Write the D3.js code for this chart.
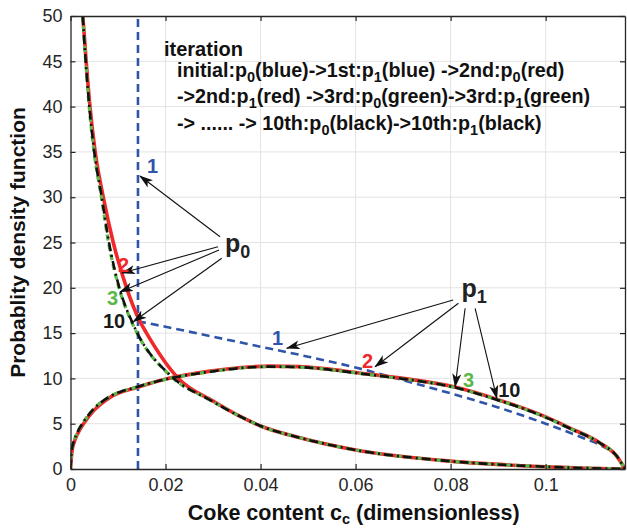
<!DOCTYPE html>
<html>
<head>
<meta charset="utf-8">
<script src="https://cdn.jsdelivr.net/npm/d3@7"></script>
<style>
  body { margin: 0; background: #fff; }
  svg { display: block; }
  text { font-family: "Liberation Sans", Arial, Helvetica, sans-serif; }
</style>
</head>
<body>
<svg id="chart" width="627" height="528"></svg>
<script>
// ---- axes ----
const xTicks = [0, 0.02, 0.04, 0.06, 0.08, 0.1];
const xTickLabels = ["0", "0.02", "0.04", "0.06", "0.08", "0.1"];
const yTicks = [0, 5, 10, 15, 20, 25, 30, 35, 40, 45, 50];
const yTickLabels = ["0", "5", "10", "15", "20", "25", "30", "35", "40", "45", "50"];
const xMax = 0.1167;

// ---- iteration 1 (blue): initial p0 is a spike at c0, p1 follows ----
const blueP0X = [0.0142, 0.0142];
const blueP0Y = [0, 50];
const blueP1X = [0.0142, 0.02, 0.03, 0.04, 0.05, 0.06, 0.07, 0.08, 0.09, 0.1, 0.108, 0.112, 0.115, 0.1167];
const blueP1Y = [16.3, 15.7, 14.6, 13.5, 12.4, 11.2, 9.8, 8.35, 6.8, 5.0, 3.4, 2.5, 1.4, 0];

// ---- iteration 2 (red) ----
const redP0X = [0.0026, 0.0033, 0.0041, 0.0052, 0.0069, 0.0090, 0.0118, 0.0146, 0.0160, 0.0227, 0.0300, 0.0357, 0.0400, 0.0483, 0.0600, 0.0780, 0.1000, 0.1167];
const redP0Y = [50, 45, 40, 35, 30, 25, 20, 16.3, 15, 10.0, 7.5, 5.8, 4.75, 3.45, 2.1, 0.95, 0.25, 0];
const redP1X = [0, 0.0003, 0.0008, 0.0015, 0.003, 0.005, 0.0083, 0.0143, 0.0203, 0.0294, 0.036, 0.042, 0.048, 0.054, 0.06, 0.07, 0.08, 0.09, 0.1, 0.105, 0.1115, 0.115, 0.1167];
const redP1Y = [0, 1.9, 3.0, 3.9, 5.2, 6.5, 7.9, 9.05, 9.95, 10.8, 11.2, 11.35, 11.3, 11.05, 10.65, 10.0, 9.15, 7.65, 5.75, 4.55, 2.85, 1.4, 0];

// ---- iteration 3 (green) ----
const greenP0X = [0.00255, 0.0032, 0.00393, 0.00495, 0.0065, 0.0080, 0.0102, 0.0128, 0.0140, 0.0212, 0.0294, 0.0357, 0.0400, 0.0483, 0.0600, 0.0780, 0.1000, 0.1167];
const greenP0Y = [50, 45, 40, 35, 30, 25, 20, 16.3, 15, 10.2, 7.6, 5.8, 4.75, 3.45, 2.1, 0.95, 0.25, 0];
const greenP1X = [0, 0.0003, 0.0008, 0.0015, 0.003, 0.005, 0.0083, 0.0143, 0.0203, 0.0294, 0.036, 0.042, 0.048, 0.054, 0.06, 0.07, 0.08, 0.09, 0.1, 0.105, 0.1115, 0.115, 0.1167];
const greenP1Y = [0, 2.2, 3.2, 4.1, 5.4, 6.7, 8.0, 9.1, 9.93, 10.74, 11.15, 11.3, 11.25, 11.0, 10.6, 9.95, 9.1, 7.6, 5.7, 4.5, 2.84, 1.4, 0];

// ---- iteration 10 (black, converged) ----
const blackP0X = [0.00257, 0.0032, 0.00396, 0.0050, 0.00657, 0.0081, 0.01028, 0.0129, 0.01407, 0.0213, 0.0294, 0.0357, 0.0400, 0.0483, 0.0600, 0.0780, 0.1000, 0.1167];
const blackP0Y = [50, 45, 40, 35, 30, 25, 20, 16.3, 15, 10.2, 7.6, 5.8, 4.75, 3.45, 2.1, 0.95, 0.25, 0];
const blackP1X = [0, 0.0003, 0.0008, 0.0015, 0.003, 0.005, 0.0083, 0.0143, 0.0203, 0.0294, 0.036, 0.042, 0.048, 0.054, 0.06, 0.07, 0.08, 0.09, 0.1, 0.105, 0.1115, 0.115, 0.1167];
const blackP1Y = [0, 2.2, 3.2, 4.1, 5.4, 6.7, 8.0, 9.1, 9.93, 10.74, 11.15, 11.3, 11.25, 11.0, 10.6, 9.95, 9.1, 7.6, 5.7, 4.5, 2.84, 1.4, 0];

// ---- text ----
const headerTitle = "iteration";
const headerLines = [
  "initial:p_0(blue)->1st:p_1(blue) ->2nd:p_0(red)",
  "->2nd:p_1(red) ->3rd:p_0(green)->3rd:p_1(green)",
  "-> ...... -> 10th:p_0(black)->10th:p_1(black)"
];
const xLabelParts = ["Coke content c", "c", " (dimensionless)"];
const yLabel = "Probablity density function";

// ---- annotations (data units) ----
const p0Label = { x: 0.0325, y: 23.95, sub: "0" };
const p1Label = { x: 0.0823, y: 18.98, sub: "1" };
const p0Arrows = [
  { x1: 0.03147, y1: 25.64, x2: 0.01463, y2: 32.34 },
  { x1: 0.03105, y1: 24.54, x2: 0.01084, y2: 21.63 },
  { x1: 0.03126, y1: 24.17, x2: 0.01042, y2: 19.54 },
  { x1: 0.03183, y1: 23.26, x2: 0.01322, y2: 16.26 }
];
const p1Arrows = [
  { x1: 0.08053, y1: 18.65, x2: 0.04552, y2: 13.32 },
  { x1: 0.08164, y1: 18.29, x2: 0.06411, y2: 11.29 },
  { x1: 0.08305, y1: 17.74, x2: 0.08095, y2: 9.08 },
  { x1: 0.08516, y1: 17.74, x2: 0.08973, y2: 7.80 }
];
const iterLabels = [
  { text: "1", x: 0.0161, y: 32.67, color: "#2f54a8" },
  { text: "2", x: 0.0100, y: 21.74, color: "#f0282a" },
  { text: "3", x: 0.00768, y: 18.1, color: "#5cb84a" },
  { text: "10", x: 0.00684, y: 15.56, color: "#1a1a1a" },
  { text: "1", x: 0.04242, y: 13.69, color: "#2f54a8" },
  { text: "2", x: 0.06137, y: 11.15, color: "#f0282a" },
  { text: "3", x: 0.08263, y: 9.05, color: "#5cb84a" },
  { text: "10", x: 0.0900, y: 7.95, color: "#1a1a1a" }
];

// ================= drawing =================
const svg = d3.select("#chart");
const W = 627, H = 528;
const margin = { left: 70.5, right: 2, top: 16, bottom: 59 };

const x = d3.scaleLinear().domain([0, xMax]).range([margin.left, W - margin.right]);
const y = d3.scaleLinear().domain([0, 50]).range([H - margin.bottom, margin.top]);

const axisColor = "#262626";
const gridColor = "#e3e3e3";

// grid
const grid = svg.append("g");
grid.selectAll("line.gx").data(xTicks.slice(1)).join("line")
  .attr("x1", d => x(d)).attr("x2", d => x(d))
  .attr("y1", y(0)).attr("y2", y(50))
  .attr("stroke", gridColor).attr("stroke-width", 1);
grid.selectAll("line.gy").data(yTicks.slice(1, -1)).join("line")
  .attr("x1", x(0)).attr("x2", x(xMax))
  .attr("y1", d => y(d)).attr("y2", d => y(d))
  .attr("stroke", gridColor).attr("stroke-width", 1);

// clip
svg.append("defs").append("clipPath").attr("id", "plotclip")
  .append("rect").attr("x", x(0)).attr("y", y(50)).attr("width", x(xMax) - x(0)).attr("height", y(0) - y(50));

const line = d3.line().x(d => x(d[0])).y(d => y(d[1])).curve(d3.curveMonotoneX);
const zip = (a, b) => a.map((v, i) => [v, b[i]]);

const plot = svg.append("g").attr("clip-path", "url(#plotclip)");

const blue = "#2f54a8", red = "#f0282a", green = "#5cb84a", black = "#111111";

// iteration 1 (blue dashed)
plot.append("path").datum(zip(blueP0X, blueP0Y))
  .attr("d", d3.line().x(d => x(d[0])).y(d => y(d[1])))
  .attr("fill", "none").attr("stroke", blue).attr("stroke-width", 2.6).attr("stroke-dasharray", "8,5");
plot.append("path").datum(zip(blueP1X, blueP1Y))
  .attr("d", line)
  .attr("fill", "none").attr("stroke", blue).attr("stroke-width", 2.6).attr("stroke-dasharray", "8,5");

// iteration 2 (red solid)
[zip(redP0X, redP0Y), zip(redP1X, redP1Y)].forEach(pts => {
  plot.append("path").datum(pts).attr("d", line)
    .attr("fill", "none").attr("stroke", red).attr("stroke-width", 3.6);
});
// iteration 3 (green dashed)
[zip(greenP0X, greenP0Y), zip(greenP1X, greenP1Y)].forEach(pts => {
  plot.append("path").datum(pts).attr("d", line)
    .attr("fill", "none").attr("stroke", green).attr("stroke-width", 3.2).attr("stroke-dasharray", "6,4");
});
// iteration 10 (black dash-dot)
[zip(blackP0X, blackP0Y), zip(blackP1X, blackP1Y)].forEach(pts => {
  plot.append("path").datum(pts).attr("d", line)
    .attr("fill", "none").attr("stroke", black).attr("stroke-width", 2.6).attr("stroke-dasharray", "9,4,2,4");
});

// axes (box with inward ticks on all sides)
const tickLen = 5;
const fmtX = (d, i) => xTickLabels[i];
const fmtY = (d, i) => yTickLabels[i];
const gx = svg.append("g").attr("transform", `translate(0,${y(0)})`)
  .call(d3.axisBottom(x).tickValues(xTicks).tickFormat(fmtX).tickSizeInner(-tickLen).tickSizeOuter(0).tickPadding(9));
const gxTop = svg.append("g").attr("transform", `translate(0,${y(50)})`)
  .call(d3.axisTop(x).tickValues(xTicks).tickFormat("").tickSizeInner(-tickLen).tickSizeOuter(0));
const gy = svg.append("g").attr("transform", `translate(${x(0)},0)`)
  .call(d3.axisLeft(y).tickValues(yTicks).tickFormat(fmtY).tickSizeInner(-tickLen).tickSizeOuter(0).tickPadding(8));
const gyRight = svg.append("g").attr("transform", `translate(${x(xMax)},0)`)
  .call(d3.axisRight(y).tickValues(yTicks).tickFormat("").tickSizeInner(-tickLen).tickSizeOuter(0));
[gx, gxTop, gy, gyRight].forEach(g => {
  g.select(".domain").attr("stroke", axisColor).attr("stroke-width", 1.3);
  g.selectAll(".tick line").attr("stroke", axisColor).attr("stroke-width", 1.2);
  g.selectAll(".tick text").attr("fill", axisColor).style("font-size", "18px")
    .style("font-family", '"Liberation Sans", Arial, Helvetica, sans-serif');
});

// axis labels
const xl = svg.append("text")
  .attr("x", (x(0) + x(xMax)) / 2 + 6).attr("y", 520)
  .attr("text-anchor", "middle").attr("font-weight", "bold").attr("font-size", 21.5).attr("fill", "#111");
xl.append("tspan").text(xLabelParts[0]);
xl.append("tspan").text(xLabelParts[1]).attr("font-size", 14.5).attr("dy", 4);
xl.append("tspan").text(xLabelParts[2]).attr("dy", -4);

svg.append("text")
  .attr("transform", `translate(25,${(y(0) + y(50)) / 2}) rotate(-90)`)
  .attr("text-anchor", "middle").attr("font-weight", "bold").attr("font-size", 21).attr("fill", "#111")
  .text(yLabel);

// header block
svg.append("text").attr("x", 164).attr("y", 55.5)
  .attr("font-weight", "bold").attr("font-size", 20).attr("fill", "#111").text(headerTitle);
headerLines.forEach((ln, i) => {
  const t = svg.append("text").attr("x", 177).attr("y", 77 + i * 26.3)
    .attr("font-weight", "bold").attr("font-size", 19.7).attr("fill", "#111");
  const parts = ln.split(/_(\d)/);
  parts.forEach((p, k) => {
    if (k % 2 === 1) t.append("tspan").text(p).attr("font-size", 14.5).attr("dy", 5);
    else if (p.length) t.append("tspan").text(p).attr("dy", k > 0 ? -5 : 0);
  });
});

// arrows
const defs = svg.select("defs");
defs.append("marker").attr("id", "ah")
  .attr("viewBox", "0 0 14 10").attr("refX", 13).attr("refY", 5)
  .attr("markerWidth", 14).attr("markerHeight", 10)
  .attr("markerUnits", "userSpaceOnUse").attr("orient", "auto")
  .append("path").attr("d", "M0,0.5 L14,5 L0,9.5 L3.5,5 Z").attr("fill", "#111");

svg.append("g").selectAll("line").data(p0Arrows.concat(p1Arrows)).join("line")
  .attr("x1", d => x(d.x1)).attr("y1", d => y(d.y1))
  .attr("x2", d => x(d.x2)).attr("y2", d => y(d.y2))
  .attr("stroke", "#111").attr("stroke-width", 1.1).attr("marker-end", "url(#ah)");

// p0 / p1 labels
[p0Label, p1Label].forEach(l => {
  const t = svg.append("text").attr("x", x(l.x)).attr("y", y(l.y))
    .attr("font-weight", "bold").attr("font-size", 25).attr("fill", "#222");
  t.append("tspan").text("p");
  t.append("tspan").text(l.sub).attr("font-size", 18).attr("dy", 6);
});

// iteration numbers
svg.append("g").selectAll("text").data(iterLabels).join("text")
  .attr("x", d => x(d.x)).attr("y", d => y(d.y))
  .attr("font-weight", "bold").attr("font-size", 20).attr("fill", d => d.color)
  .text(d => d.text);
</script>
</body>
</html>
